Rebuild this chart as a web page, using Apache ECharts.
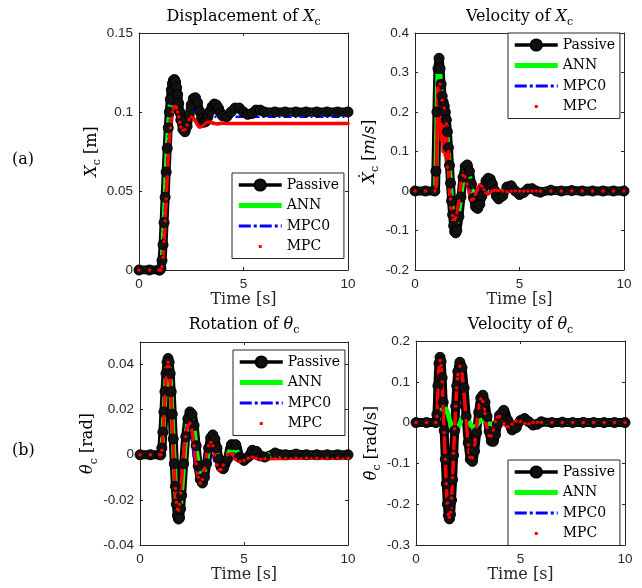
<!DOCTYPE html>
<html>
<head>
<meta charset="utf-8">
<script src="https://cdn.jsdelivr.net/npm/echarts@6/dist/echarts.min.js"></script>
<style>
html, body { margin: 0; padding: 0; background: #fff; }
#chart { width: 642px; height: 588px; }
</style>
</head>
<body>
<div id="chart"></div>
<script>
// time samples shared by all four panels (s)
var time = [0, 0.5, 0.95,
  1.0, 1.05, 1.1, 1.15, 1.2, 1.25, 1.3, 1.35, 1.4, 1.45, 1.5, 1.55, 1.6, 1.65, 1.7, 1.75, 1.8, 1.85, 1.9, 1.95, 2.0,
  2.1, 2.2, 2.3, 2.4, 2.5, 2.6, 2.7, 2.8, 2.9, 3.0, 3.1, 3.2, 3.3, 3.4, 3.5, 3.6, 3.7, 3.8, 3.9, 4.0,
  4.2, 4.4, 4.6, 4.8, 5.0, 5.2, 5.4, 5.6, 5.8, 6.0,
  6.5, 7.0, 7.5, 8.0, 8.5, 9.0, 9.5, 10];

var seriesNames = ['Passive', 'ANN', 'MPC0', 'MPC'];

// (a) displacement of Xc [m]
var dispPassive = [0, 0, 0,
  0, 0.001, 0.006, 0.016, 0.03, 0.046, 0.062, 0.077, 0.09, 0.1, 0.108, 0.114, 0.118, 0.1202, 0.1205, 0.119, 0.1155, 0.111, 0.1055, 0.1, 0.095,
  0.089, 0.0875, 0.091, 0.098, 0.1045, 0.1085, 0.109, 0.106, 0.1005, 0.096, 0.0935, 0.094, 0.097, 0.1005, 0.1035, 0.105, 0.1045, 0.1025, 0.0995, 0.0975,
  0.097, 0.1, 0.1025, 0.1025, 0.1, 0.0985, 0.099, 0.1012, 0.1012, 0.1,
  0.1, 0.1, 0.1, 0.1, 0.1, 0.1, 0.1, 0.1];
var dispANN = [0, 0, 0,
  0, 0.001, 0.006, 0.016, 0.03, 0.046, 0.062, 0.077, 0.089, 0.098, 0.105, 0.11, 0.1135, 0.1152, 0.1155, 0.1145, 0.112, 0.1085, 0.1045, 0.1005, 0.097,
  0.093, 0.0925, 0.095, 0.0995, 0.1035, 0.1055, 0.105, 0.1025, 0.0995, 0.098, 0.0975, 0.0985, 0.1, 0.1015, 0.1022, 0.1022, 0.1015, 0.1003, 0.0995, 0.0992,
  0.0995, 0.1005, 0.1008, 0.1003, 0.0998, 0.0998, 0.1, 0.1, 0.1, 0.1,
  0.1, 0.1, 0.1, 0.1, 0.1, 0.1, 0.1, 0.1];
var dispMPC0 = [0, 0, 0,
  0, 0, 0.004, 0.012, 0.025, 0.04, 0.055, 0.069, 0.081, 0.091, 0.099, 0.104, 0.1075, 0.109, 0.1095, 0.109, 0.1065, 0.1035, 0.1, 0.097, 0.0945,
  0.0925, 0.093, 0.0955, 0.0985, 0.1003, 0.1008, 0.0998, 0.0982, 0.0968, 0.0962, 0.0962, 0.0967, 0.0972, 0.0974, 0.0973, 0.097, 0.097, 0.097, 0.097, 0.097,
  0.097, 0.097, 0.097, 0.097, 0.097, 0.097, 0.097, 0.097, 0.097, 0.097,
  0.097, 0.097, 0.097, 0.097, 0.097, 0.097, 0.097, 0.097];
var dispMPC = [0, 0, 0,
  0, 0, 0.002, 0.008, 0.018, 0.031, 0.045, 0.059, 0.071, 0.082, 0.09, 0.096, 0.1, 0.1023, 0.1033, 0.1035, 0.1025, 0.1, 0.097, 0.0935, 0.0905,
  0.0885, 0.0888, 0.0918, 0.0952, 0.0968, 0.0962, 0.0943, 0.092, 0.0905, 0.0908, 0.0918, 0.093, 0.0937, 0.0937, 0.0932, 0.0928, 0.0926, 0.0926, 0.0928, 0.0929,
  0.0928, 0.0928, 0.0928, 0.0928, 0.0928, 0.0928, 0.0928, 0.0928, 0.0928, 0.0928,
  0.0928, 0.0928, 0.0928, 0.0928, 0.0928, 0.0928, 0.0928, 0.0928];

// (a) velocity of Xc [m/s]
var velPassive = [0, 0, 0,
  0.05, 0.2, 0.31, 0.336, 0.31, 0.27, 0.24, 0.225, 0.215, 0.2, 0.18, 0.15, 0.11, 0.065, 0.02, -0.025, -0.06, -0.088, -0.103, -0.106, -0.1,
  -0.065, -0.015, 0.035, 0.062, 0.066, 0.05, 0.018, -0.018, -0.04, -0.044, -0.034, -0.013, 0.01, 0.026, 0.032, 0.03, 0.018, 0.002, -0.013, -0.02,
  -0.012, 0.01, 0.013, 0, -0.009, -0.004, 0.005, 0.006, 0, -0.003,
  0.002, 0, 0.001, 0, 0, 0, 0, 0];
var velANN = [0, 0, 0,
  0.04, 0.18, 0.3, 0.32, 0.29, 0.25, 0.22, 0.205, 0.195, 0.18, 0.16, 0.13, 0.095, 0.055, 0.015, -0.025, -0.055, -0.077, -0.087, -0.088, -0.08,
  -0.05, -0.01, 0.03, 0.052, 0.054, 0.038, 0.012, -0.013, -0.026, -0.026, -0.017, -0.004, 0.008, 0.014, 0.013, 0.007, -0.001, -0.006, -0.007, -0.005,
  0.002, 0.004, 0.001, -0.002, -0.001, 0.001, 0, 0, 0, 0,
  0, 0, 0, 0, 0, 0, 0, 0];
var velMPC0 = [0, 0, 0,
  0.02, 0.14, 0.28, 0.2, 0.26, 0.15, 0.24, 0.14, 0.22, 0.11, 0.2, 0.08, 0.12, 0.02, 0, -0.04, -0.065, -0.08, -0.084, -0.078, -0.065,
  -0.03, 0.01, 0.037, 0.045, 0.035, 0.012, -0.01, -0.022, -0.022, -0.012, 0.002, 0.012, 0.014, 0.008, 0, -0.005, -0.006, -0.003, 0.001, 0.003,
  0.002, -0.001, -0.001, 0, 0, 0, 0, 0, 0, 0,
  0, 0, 0, 0, 0, 0, 0, 0];
var velMPC = [0, 0, 0,
  0.01, 0.12, 0.26, 0.18, 0.27, 0.13, 0.23, 0.1, 0.21, 0.09, 0.17, 0.06, 0.1, 0, -0.02, -0.045, -0.062, -0.072, -0.073, -0.067, -0.055,
  -0.025, 0.02, 0.04, 0.036, 0.018, -0.005, -0.022, -0.02, -0.008, 0.006, 0.015, 0.012, 0.003, -0.005, -0.007, -0.004, 0, 0.002, 0.002, 0.001,
  0, -0.001, 0, 0, 0, 0, 0, 0, 0, 0,
  0, 0, 0, 0, 0, 0, 0, 0];

// (b) rotation of theta_c [rad]
var rotPassive = [0, 0, 0,
  0, 0.003, 0.01, 0.019, 0.028, 0.036, 0.041, 0.0427, 0.041, 0.036, 0.028, 0.018, 0.007, -0.004, -0.014, -0.022, -0.027, -0.0285, -0.028, -0.024, -0.018,
  -0.004, 0.008, 0.016, 0.019, 0.018, 0.013, 0.004, -0.005, -0.011, -0.0125, -0.01, -0.004, 0.003, 0.0075, 0.0088, 0.007, 0.003, -0.002, -0.0055, -0.0062,
  -0.002, 0.0045, 0.0045, -0.001, -0.0025, -0.001, 0.002, 0.0015, -0.0005, -0.001,
  0.0008, 0, 0.0003, 0, 0, 0, 0, 0];
var rotANN = [0, 0, 0,
  0, 0.003, 0.009, 0.018, 0.026, 0.034, 0.039, 0.0405, 0.039, 0.034, 0.026, 0.016, 0.006, -0.004, -0.013, -0.02, -0.025, -0.026, -0.0255, -0.022, -0.0165,
  -0.004, 0.007, 0.014, 0.0165, 0.0155, 0.011, 0.003, -0.004, -0.0085, -0.0095, -0.007, -0.0025, 0.002, 0.005, 0.0056, 0.004, 0.001, -0.002, -0.003, -0.003,
  -0.0005, 0.0025, 0.002, 0, -0.0008, -0.0003, 0.0006, 0.0004, 0, 0,
  0, 0, 0, 0, 0, 0, 0, 0];
var rotMPC0 = [0, 0, 0,
  0, 0.002, 0.008, 0.016, 0.025, 0.032, 0.037, 0.038, 0.036, 0.03, 0.022, 0.012, 0.002, -0.007, -0.015, -0.02, -0.0225, -0.022, -0.019, -0.014, -0.008,
  0.003, 0.01, 0.0135, 0.012, 0.006, -0.002, -0.008, -0.0115, -0.0115, -0.008, -0.003, 0.002, 0.004, 0.003, 0, -0.0035, -0.0055, -0.0058, -0.0045, -0.0025,
  0, -0.001, -0.0025, -0.0025, -0.0015, -0.001, -0.0015, -0.002, -0.0018, -0.0015,
  -0.0015, -0.0015, -0.0015, -0.0015, -0.0015, -0.0015, -0.0015, -0.0015];
var rotMPC = [0, 0, 0,
  0, 0.002, 0.008, 0.017, 0.026, 0.034, 0.039, 0.041, 0.039, 0.033, 0.024, 0.013, 0.003, -0.007, -0.015, -0.021, -0.024, -0.0245, -0.022, -0.017, -0.011,
  0, 0.008, 0.013, 0.014, 0.011, 0.004, -0.004, -0.01, -0.0125, -0.011, -0.006, 0, 0.004, 0.0055, 0.004, 0, -0.0045, -0.0068, -0.0065, -0.0045,
  0, 0.0003, -0.002, -0.003, -0.0025, -0.0015, -0.001, -0.0015, -0.002, -0.0018,
  -0.0016, -0.0016, -0.0015, -0.0015, -0.0015, -0.0015, -0.0015, -0.0015];

// (b) velocity of theta_c [rad/s]
var rvelPassive = [0, 0, 0,
  0.02, 0.09, 0.145, 0.16, 0.15, 0.11, 0.05, -0.02, -0.09, -0.15, -0.2, -0.228, -0.236, -0.225, -0.19, -0.14, -0.08, -0.02, 0.04, 0.09, 0.125,
  0.148, 0.135, 0.085, 0.015, -0.05, -0.09, -0.095, -0.07, -0.025, 0.025, 0.06, 0.067, 0.05, 0.015, -0.022, -0.045, -0.046, -0.03, -0.004, 0.018,
  0.03, 0.005, -0.018, -0.012, 0.005, 0.01, 0.002, -0.006, -0.004, 0.002,
  0, 0.001, 0, 0.0005, 0, 0, 0, 0];
var rvelANN = [0, 0, 0,
  0, 0.007, 0.015, 0.022, 0.028, 0.032, 0.034, 0.035, 0.035, 0.031, 0.025, 0.017, 0.008, -0.001, -0.01, -0.016, -0.02, -0.022, -0.022, -0.019, -0.015,
  -0.002, 0.01, 0.016, 0.014, 0.006, -0.004, -0.01, -0.011, -0.007, 0, 0.005, 0.007, 0.005, 0.001, -0.003, -0.004, -0.003, 0, 0.002, 0.002,
  0, -0.001, 0, 0, 0, 0, 0, 0, 0, 0,
  0, 0, 0, 0, 0, 0, 0, 0];
var rvelMPC0 = [0, 0, 0,
  0.012, 0.07, 0.12, 0.138, 0.125, 0.085, 0.025, -0.04, -0.1, -0.155, -0.195, -0.215, -0.218, -0.2, -0.165, -0.115, -0.06, -0.005, 0.045, 0.085, 0.113,
  0.13, 0.112, 0.065, 0.003, -0.052, -0.08, -0.08, -0.052, -0.01, 0.032, 0.054, 0.048, 0.02, -0.011, -0.03, -0.03, -0.016, 0.002, 0.012, 0.013,
  -0.002, -0.009, -0.003, 0.003, 0.003, -0.001, -0.002, 0, 0, 0,
  0, 0, 0, 0, 0, 0, 0, 0];
var rvelMPC = [0, 0, 0,
  0.015, 0.08, 0.135, 0.152, 0.14, 0.1, 0.04, -0.025, -0.09, -0.15, -0.197, -0.225, -0.232, -0.22, -0.185, -0.135, -0.075, -0.015, 0.04, 0.085, 0.118,
  0.138, 0.12, 0.07, 0.005, -0.055, -0.085, -0.086, -0.055, -0.01, 0.035, 0.058, 0.052, 0.022, -0.012, -0.032, -0.033, -0.018, 0.002, 0.013, 0.015,
  -0.002, -0.01, -0.004, 0.004, 0.003, -0.002, -0.003, 0, 0.001, 0,
  0, 0, 0, 0, 0, 0, 0, 0];

var chart = echarts.init(document.getElementById('chart'));

var serif = 'DejaVu Serif';
var sans = 'Liberation Sans';
var axisColor = '#262626';

var rich = {
  n: { fontFamily: serif, fontSize: 16, lineHeight: 22, color: '#000' },
  i: { fontFamily: serif, fontSize: 16, fontStyle: 'italic', lineHeight: 22, color: '#000' },
  s: { fontFamily: serif, fontSize: 11, lineHeight: 11, verticalAlign: 'bottom', color: '#000' }
};

var panels = [
  {
    grid: { left: 139, top: 33, width: 209, height: 237 },
    title: '{n|Displacement of }{i|X}{s|c}', titleTop: 6,
    yName: '{i|X}{s|c}{n| [m]}', yGap: 35,
    yMin: 0, yMax: 0.15, yStep: 0.05, showTop: true,
    values: [dispPassive, dispANN, dispMPC0, dispMPC],
    legend: { left: 232, top: 173 }
  },
  {
    grid: { left: 415, top: 33, width: 209, height: 237 },
    title: '{n|Velocity of }{i|X}{s|c}', titleTop: 6,
    yName: '{i|\u1E8A}{s|c}{n| [}{i|m}{n|/}{i|s}{n|]}', yGap: 34,
    yMin: -0.2, yMax: 0.4, yStep: 0.1, showTop: true,
    values: [velPassive, velANN, velMPC0, velMPC],
    legend: { left: 508, top: 33 }
  },
  {
    grid: { left: 140, top: 342, width: 208, height: 203 },
    title: '{n|Rotation of }{i|\u03B8}{s|c}', titleTop: 314,
    yName: '{i|\u03B8}{s|c}{n| [rad]}', yGap: 38,
    yMin: -0.04, yMax: 0.05, yStep: 0.02, showTop: false,
    values: [rotPassive, rotANN, rotMPC0, rotMPC],
    legend: { left: 233, top: 350 }
  },
  {
    grid: { left: 416, top: 341, width: 209, height: 204 },
    title: '{n|Velocity of }{i|\u03B8}{s|c}', titleTop: 314,
    yName: '{i|\u03B8\u0307}{s|c}{n| [rad/s]}', yGap: 33,
    yMin: -0.3, yMax: 0.2, yStep: 0.1, showTop: true,
    values: [rvelPassive, rvelANN, rvelMPC0, rvelMPC],
    legend: { left: 508, top: 460 }
  }
];

var styles = {
  Passive: {
    symbol: 'circle', symbolSize: 10, showSymbol: true,
    lineStyle: { color: '#000', width: 9 },
    itemStyle: { color: '#111', borderColor: '#000', borderWidth: 1 }
  },
  ANN: {
    symbol: 'none',
    lineStyle: { color: '#00ff00', width: 5 },
    itemStyle: { color: '#00ff00' }
  },
  MPC0: {
    symbol: 'none',
    lineStyle: { color: '#0000ff', width: 2.5, type: [8, 3, 2, 3] },
    itemStyle: { color: '#0000ff' }
  },
  MPC: {
    symbol: 'circle', symbolSize: 3.5, showSymbol: true,
    lineStyle: { color: '#ff0000', width: 3.5 },
    itemStyle: { color: '#ff0000' }
  }
};

var legendIcons = {
  ANN: 'path://M0,0H43V5H0Z',
  MPC0: 'path://M0,0h12v3h-12z M15,0h3v3h-3z M21,0h12v3h-12z M36,0h3v3h-3z M42,0h1v3h-1z',
  MPC: 'path://M0,0h0.01v0.01h-0.01z M42.99,13.99h0.01v0.01h-0.01z M20,5.5h3v3h-3z'
};

var lineAxis = { show: true, onZero: false, lineStyle: { color: axisColor, width: 1 } };
var tickIn = { show: true, inside: true, length: 3, lineStyle: { color: axisColor, width: 1 } };
var tickLabel = { color: axisColor, fontFamily: sans, fontSize: 13.5 };

var grids = [], xAxes = [], yAxes = [], titles = [], legends = [], series = [];

panels.forEach(function (p, gi) {
  grids.push(Object.assign({ outerBoundsMode: 'none', containLabel: false }, p.grid));

  titles.push({
    text: p.title,
    left: p.grid.left + p.grid.width / 2,
    top: p.titleTop,
    textAlign: 'center',
    padding: 0,
    textStyle: { fontFamily: serif, fontSize: 16, fontWeight: 'normal', color: '#000', rich: rich }
  });

  xAxes.push({
    gridIndex: gi, type: 'value', position: 'bottom', min: 0, max: 10, interval: 5,
    name: 'Time [s]', nameLocation: 'middle', nameGap: 22,
    nameTextStyle: { fontFamily: serif, fontSize: 16, color: axisColor },
    axisLine: lineAxis, axisTick: tickIn,
    axisLabel: Object.assign({ margin: 7 }, tickLabel),
    splitLine: { show: false }
  });
  xAxes.push({
    gridIndex: gi, type: 'value', position: 'top', min: 0, max: 10, interval: 5,
    axisLine: lineAxis, axisTick: tickIn, axisLabel: { show: false }, splitLine: { show: false }
  });

  yAxes.push({
    gridIndex: gi, type: 'value', position: 'left', min: p.yMin, max: p.yMax, interval: p.yStep,
    name: p.yName, nameLocation: 'middle', nameGap: p.yGap,
    nameTextStyle: { fontFamily: serif, fontSize: 16, color: '#000', rich: rich },
    axisLine: lineAxis, axisTick: tickIn,
    axisLabel: Object.assign({ margin: 6, showMaxLabel: p.showTop }, tickLabel),
    splitLine: { show: false }
  });
  yAxes.push({
    gridIndex: gi, type: 'value', position: 'right', min: p.yMin, max: p.yMax, interval: p.yStep,
    axisLine: lineAxis, axisTick: tickIn, axisLabel: { show: false }, splitLine: { show: false }
  });

  seriesNames.forEach(function (name, k) {
    var vals = p.values[k];
    series.push(Object.assign({
      name: name,
      type: 'line',
      xAxisIndex: gi * 2,
      yAxisIndex: gi * 2,
      data: time.map(function (t, i) { return [t, vals[i]]; }),
      smooth: 0.3,
      silent: true,
      animation: false
    }, styles[name]));
  });

  legends.push({
    left: p.legend.left, top: p.legend.top,
    orient: 'vertical',
    itemWidth: 43, itemHeight: 14, itemGap: 6.5,
    padding: [5, 5, 5, 5],
    backgroundColor: '#fff', borderColor: axisColor, borderWidth: 1, borderRadius: 0,
    selectedMode: false,
    textStyle: { fontFamily: serif, fontSize: 14, color: '#000' },
    data: [
      { name: 'Passive', lineStyle: { width: 3.5 } },
      { name: 'ANN', icon: legendIcons.ANN },
      { name: 'MPC0', icon: legendIcons.MPC0 },
      { name: 'MPC', icon: legendIcons.MPC }
    ]
  });
});

var option = {
  backgroundColor: '#fff',
  animation: false,
  title: titles,
  grid: grids,
  xAxis: xAxes,
  yAxis: yAxes,
  legend: legends,
  series: series,
  graphic: [
    { type: 'text', left: 12, top: 152, style: { text: '(a)', fontFamily: serif, fontSize: 16, fill: '#000' } },
    { type: 'text', left: 12, top: 443, style: { text: '(b)', fontFamily: serif, fontSize: 16, fill: '#000' } }
  ]
};

chart.setOption(option);
</script>
</body>
</html>
